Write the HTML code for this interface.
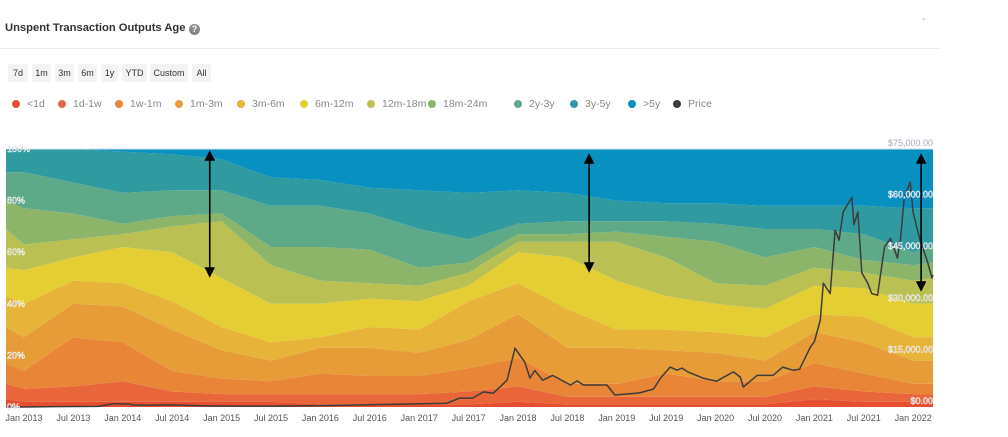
<!DOCTYPE html>
<html><head><meta charset="utf-8"><style>
body{margin:0;width:1008px;height:437px;background:#fff;font-family:"Liberation Sans",sans-serif;overflow:hidden;position:relative}
.title{position:absolute;left:5px;top:22px;font-size:11.2px;color:#333;font-weight:bold;white-space:nowrap}
.help{position:absolute;left:189px;top:24px;width:11px;height:11px;border-radius:50%;background:#888;color:#fff;font-size:9px;text-align:center;line-height:11px;font-weight:bold}
.sep{position:absolute;left:0;top:48px;width:940px;height:1px;background:#eee}
.btn{position:absolute;top:64px;height:18px;background:#f3f3f3;font-size:9px;color:#333;line-height:18px;text-align:center;border-radius:2px}
.leg{position:absolute;top:98px;font-size:10.5px;color:#888;white-space:nowrap}
.dot{position:absolute;top:100px;width:8px;height:8px;border-radius:50%}
</style></head><body>
<div class="title">Unspent Transaction Outputs Age</div>
<div class="help">?</div>
<div style="position:absolute;left:922px;top:14px;font-size:10px;color:#999">-</div>
<div class="sep"></div>
<div class="btn" style="left:8px;width:20px">7d</div>
<div class="btn" style="left:32px;width:19px">1m</div>
<div class="btn" style="left:55px;width:19px">3m</div>
<div class="btn" style="left:78px;width:19px">6m</div>
<div class="btn" style="left:101px;width:17px">1y</div>
<div class="btn" style="left:122px;width:25px">YTD</div>
<div class="btn" style="left:150px;width:38px">Custom</div>
<div class="btn" style="left:192px;width:19px">All</div>
<div id="legend"></div>
<svg id="chart" width="1008" height="437" style="position:absolute;left:0;top:0"></svg>
<script>
const bandNames=["<1d","1d-1w","1w-1m","1m-3m","3m-6m","6m-12m","12m-18m","18m-24m","2y-3y","3y-5y",">5y"];
const bandColors=["#e64f2e","#e8663a","#e98537","#e79c38","#e7b339","#e5cd34","#bac152","#8db56a","#5ea987","#2f9aa0","#0790c0"];
const times=[-0.2,0,0.5,1,1.5,2,2.5,3,3.5,4,4.5,5,5.5,6,6.5,7,7.5,8,8.5,9,9.2];
const shareLt1d=[3,2,2,2,2,2,2,1,1,1,1,2,1,1,1,1,1,3,2,2,2];
const share1d1w=[6,5,6,8,4,3,3,4,4,4,5,6,3,3,3,3,3,5,4,3,3];
const share1w1m=[8,7,19,15,8,6,5,8,7,7,9,11,5,5,9,6,6,9,7,4,4];
const share1m3m=[14,13,13,14,16,11,8,10,11,9,11,17,14,14,9,11,8,12,12,9,9];
const share3m6m=[12,13,9,9,11,9,7,4,8,9,15,12,15,7,8,8,9,7,10,9,9];
const share6m12m=[11,13,9,14,19,19,15,13,11,11,6,12,20,19,13,11,11,11,11,13,13];
const share12m18m=[15,10,7,5,10,22,15,9,6,6,5,4,6,15,15,8,9,7,6,9,10];
const share18m24m=[11,14,10,4,4,3,7,13,13,7,4,3,3,4,8,16,11,8,5,6,6];
const share2y3y=[11,14,12,12,10,9,16,16,14,15,9,4,5,4,6,7,11,7,10,5,6];
const share3y5y=[9,9,13,16,14,12,11,10,10,15,18,13,11,8,7,8,9,9,11,17,15];
const share5yPlus=[0,0,0,1,2,4,11,12,15,16,17,16,17,20,21,21,22,22,22,23,23];
const bandShares=[shareLt1d,share1d1w,share1w1m,share1m3m,share3m6m,share6m12m,share12m18m,share18m24m,share2y3y,share3y5y,share5yPlus];
const priceTimes=[-0.18,0,0.3,0.75,0.85,0.92,1.0,1.05,1.1,1.2,1.5,1.78,2.0,2.5,2.59,3.0,3.43,4.28,4.41,4.54,4.65,4.75,4.89,4.97,5.02,5.07,5.12,5.17,5.25,5.35,5.53,5.6,5.66,5.9,5.98,6.23,6.37,6.45,6.54,6.61,6.66,6.72,6.87,7.01,7.18,7.25,7.28,7.42,7.58,7.68,7.78,7.85,7.96,8.0,8.06,8.09,8.16,8.21,8.25,8.29,8.38,8.4,8.44,8.48,8.54,8.58,8.64,8.68,8.71,8.77,8.84,8.87,8.91,8.97,9.0,9.07,9.14,9.19,9.2];
const priceValues=[13,14,120,180,700,1000,850,900,600,500,620,380,280,250,300,400,600,1100,2600,2600,4400,4000,7800,17100,15000,13000,8400,10600,7800,9200,6400,7600,6400,6400,3500,4100,5200,8700,11600,10700,11300,10200,8400,7500,10200,8700,5800,9200,9200,11600,10700,11000,17400,19000,25300,36000,33000,51400,48500,56700,61000,53000,56700,39000,36000,33000,32500,40700,46500,49000,43300,48500,61000,65400,56400,48500,42700,37500,38400];
const xTickLabels=["Jan 2013","Jul 2013","Jan 2014","Jul 2014","Jan 2015","Jul 2015","Jan 2016","Jul 2016","Jan 2017","Jul 2017","Jan 2018","Jul 2018","Jan 2019","Jul 2019","Jan 2020","Jul 2020","Jan 2021","Jul 2021","Jan 2022"];
const pctTicks=[0,20,40,60,80,100];
const priceTicks=[0,15000,30000,45000,60000,75000];
const arrowTimes=[1.88,5.72,9.08];

const NS="http://www.w3.org/2000/svg";
const svg=document.getElementById('chart');
const X0=6,X1=933,Y0=407,Y1=149;
function xs(t){return 24+t*98.8;}
function ys(p){return Y0-p/100*(Y0-Y1);}
function yp(v){return Y0-v/75000*(Y0-Y1);}
function cx(t){return Math.max(X0,Math.min(X1,xs(t)));}
function mk(tag,attrs){const e=document.createElementNS(NS,tag);for(const k in attrs)e.setAttribute(k,attrs[k]);svg.appendChild(e);return e;}

const cum=times.map(()=>0);
bandShares.forEach((arr,b)=>{
  const lower=cum.slice();
  arr.forEach((v,i)=>{cum[i]+=v;});
  const upper=cum.map((v,i)=>b===bandShares.length-1?100:v);
  let d='';
  times.forEach((t,i)=>{d+=(i?'L':'M')+cx(t).toFixed(1)+','+ys(Math.min(100,upper[i])).toFixed(1);});
  for(let i=times.length-1;i>=0;i--)d+='L'+cx(times[i]).toFixed(1)+','+ys(Math.min(100,lower[i])).toFixed(1);
  const p=mk('path',{d:d+'Z',fill:bandColors[b]});
  
  
});
const border=mk('line',{x1:X0,x2:X1,y1:Y1,y2:Y1,stroke:'#cfe3ee','stroke-width':1});



let pd='';
priceTimes.forEach((t,i)=>{pd+=(i?'L':'M')+cx(t).toFixed(1)+','+yp(priceValues[i]).toFixed(1);});
const pl=mk('path',{d:pd,fill:'none',stroke:'#3c3c3c','stroke-width':1.5,'stroke-linejoin':'round'});



pctTicks.forEach(v=>{
  const t=mk('text',{x:7,y:ys(v)+3,'font-size':9,fill:'#aab',stroke:'#fff','stroke-width':0.4});
  t.textContent=v+'%';
  
  
});
priceTicks.forEach(v=>{
  const t=mk('text',{x:933,y:yp(v)-3,'font-size':9,fill:'#aab','text-anchor':'end',stroke:'#fff','stroke-width':v===75000?0:0.4});
  t.textContent='$'+v.toLocaleString('en-US')+'.00';
  
  
});
xTickLabels.forEach((s,i)=>{
  const t=mk('text',{x:xs(i*0.5),y:421,'font-size':9,fill:'#555','text-anchor':'middle'});
  t.textContent=s;
  
  
});
const arrowEnds=[[152,276],[155,271],[155,290]];
arrowTimes.forEach((t,i)=>{
  const x=xs(t),a=arrowEnds[i][0],b=arrowEnds[i][1];
  const g=mk('path',{d:`M${x},${a+6}L${x},${b-6}M${x-4},${a+8}L${x},${a}L${x+4},${a+8}ZM${x-4},${b-8}L${x},${b}L${x+4},${b-8}Z`,stroke:'#000','stroke-width':1.6,fill:'#000'});
  
  
});

const legX=[16,62,119,179,241,304,371,432,518,574,632,677];
const leg=document.getElementById('legend');
bandNames.concat(['Price']).forEach((n,i)=>{
  const dot=document.createElement('div');
  dot.className='dot';dot.style.left=(legX[i]-4)+'px';
  dot.style.background=i<11?bandColors[i]:'#3c3c3c';
  
  
  leg.appendChild(dot);
  const d=document.createElement('div');
  d.className='leg';d.style.left=(legX[i]+11)+'px';
  d.textContent=n;
  
  
  leg.appendChild(d);
});
</script>
</body></html>
